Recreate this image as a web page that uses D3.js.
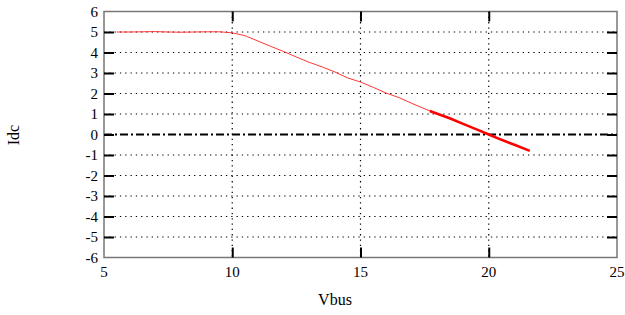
<!DOCTYPE html>
<html>
<head>
<meta charset="utf-8">
<script src="https://cdn.jsdelivr.net/npm/d3@7"></script>
<style>
  body { margin: 0; background: #fff; }
  svg text { font-family: "Liberation Serif", "Times New Roman", Times, "DejaVu Serif", serif; }
</style>
</head>
<body>
<svg id="vis"></svg>
<script>
// data
let vbusThin = [5.5, 6.0, 6.5, 7.0, 7.5, 8.0, 8.5, 9.0, 9.5, 10.0, 10.5, 11.0, 11.5, 12.0, 12.5, 13.0, 13.5, 14.0, 14.5, 15.0, 15.5, 16.0, 16.5, 17.0, 17.7];
let idcThin = [5.0, 5.0, 5.01, 5.02, 5.0, 4.99, 5.0, 5.01, 5.01, 4.96, 4.82, 4.56, 4.3, 4.05, 3.78, 3.52, 3.3, 3.05, 2.76, 2.56, 2.3, 2.02, 1.8, 1.52, 1.15];
let vbusThick = [17.7, 18.5, 19.0, 19.5, 20.0, 20.5, 21.0, 21.6];
let idcThick = [1.15, 0.78, 0.52, 0.26, 0.0, -0.26, -0.5, -0.8];
let xTicks = [5, 10, 15, 20, 25];
let yTicks = [-6, -5, -4, -3, -2, -1, 0, 1, 2, 3, 4, 5, 6];

let serif = '"Liberation Serif", "Times New Roman", Times, "DejaVu Serif", serif';

let config = { svg: {}, plot: {} };
config.svg.width = 625;
config.svg.height = 315;
config.plot.x = 104;
config.plot.y = 11.5;
config.plot.width = 513;
config.plot.height = 246;

let svg = d3.select("svg#vis")
  .attr("width", config.svg.width)
  .attr("height", config.svg.height);

let plot = svg.append("g")
  .attr("transform", translate(config.plot.x, config.plot.y));

let scale = {};
scale.x = d3.scaleLinear().domain([5, 25]).range([0, config.plot.width]);
scale.y = d3.scaleLinear().domain([-6, 6]).range([config.plot.height, 0]);

// grid
plot.selectAll("line.gy")
  .data(yTicks.filter(d => d > -6 && d < 6 && d != 0))
  .enter().append("line")
  .attr("x1", 0).attr("x2", config.plot.width)
  .attr("y1", d => scale.y(d)).attr("y2", d => scale.y(d))
  .attr("stroke", "#000").attr("stroke-width", 1.2)
  .attr("stroke-dasharray", "1.3,4");

plot.selectAll("line.gx")
  .data(xTicks.filter(d => d > 5 && d < 25))
  .enter().append("line")
  .attr("y1", 0).attr("y2", config.plot.height)
  .attr("x1", d => scale.x(d)).attr("x2", d => scale.x(d))
  .attr("stroke", "#000").attr("stroke-width", 1.2)
  .attr("stroke-dasharray", "1.3,4");

// zero line
plot.append("line")
  .attr("x1", 0).attr("x2", config.plot.width)
  .attr("y1", scale.y(0)).attr("y2", scale.y(0))
  .attr("stroke", "#000").attr("stroke-width", 1.8)
  .attr("stroke-dasharray", "8,3,2,3");

// frame
plot.append("rect")
  .attr("width", config.plot.width).attr("height", config.plot.height)
  .attr("fill", "none").attr("stroke", "#777").attr("stroke-width", 1.5);

// inner ticks
let axis = {};
axis.left = d3.axisRight(scale.y).tickValues(yTicks.filter(d => d > -6 && d < 6)).tickSize(10).tickFormat("");
axis.right = d3.axisLeft(scale.y).tickValues(yTicks.filter(d => d > -6 && d < 6)).tickSize(10).tickFormat("");
axis.top = d3.axisBottom(scale.x).tickValues(xTicks.filter(d => d > 5 && d < 25)).tickSize(10).tickFormat("");
axis.bottom = d3.axisTop(scale.x).tickValues(xTicks.filter(d => d > 5 && d < 25)).tickSize(10).tickFormat("");

plot.append("g").call(axis.left);
plot.append("g").attr("transform", translate(config.plot.width, 0)).call(axis.right);
plot.append("g").call(axis.top);
plot.append("g").attr("transform", translate(0, config.plot.height)).call(axis.bottom);
plot.selectAll(".domain").remove();
plot.selectAll(".tick line").attr("stroke", "#000").attr("stroke-width", 2);

// tick labels
plot.selectAll("text.ylab")
  .data(yTicks)
  .enter().append("text")
  .attr("x", -6)
  .attr("y", d => scale.y(d))
  .attr("dy", "0.35em")
  .attr("text-anchor", "end")
  .attr("font-family", serif)
  .attr("font-size", "15px")
  .text(d => d);

plot.selectAll("text.xlab")
  .data(xTicks)
  .enter().append("text")
  .attr("x", d => scale.x(d))
  .attr("y", config.plot.height + 19)
  .attr("text-anchor", "middle")
  .attr("font-family", serif)
  .attr("font-size", "15px")
  .text(d => d);

// series
let line = d3.line().x(d => scale.x(d[0])).y(d => scale.y(d[1]));

plot.append("path")
  .datum(d3.zip(vbusThin, idcThin))
  .attr("d", line)
  .attr("fill", "none")
  .attr("stroke", "#ff2020")
  .attr("stroke-width", 0.9);

plot.append("path")
  .datum(d3.zip(vbusThick, idcThick))
  .attr("d", line)
  .attr("fill", "none")
  .attr("stroke", "#ff0000")
  .attr("stroke-width", 2.6);

// axis titles
svg.append("text")
  .text("Vbus")
  .attr("x", 335)
  .attr("y", 305)
  .attr("text-anchor", "middle")
  .attr("font-family", serif)
  .attr("font-size", "16px");

svg.append("text")
  .text("Idc")
  .attr("transform", translate(19, 135) + " rotate(-90)")
  .attr("text-anchor", "middle")
  .attr("font-family", serif)
  .attr("font-size", "16px");

function translate(x, y) {
  return 'translate(' + x + ',' + y + ')';
}
</script>
</body>
</html>
